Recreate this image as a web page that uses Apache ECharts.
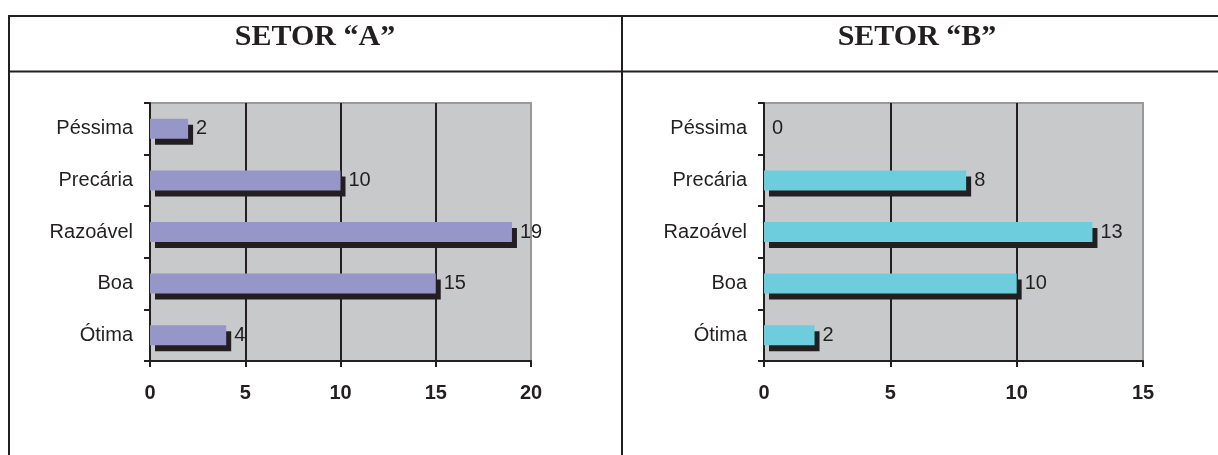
<!DOCTYPE html>
<html>
<head>
<meta charset="utf-8">
<script src="https://cdn.jsdelivr.net/npm/echarts@6/dist/echarts.min.js"></script>
<style>
  html, body { margin: 0; padding: 0; background: #fff; }
  #main { width: 1218px; height: 455px; }
</style>
</head>
<body>
<div id="main"></div>
<script>
// dados
const categorias = ['Péssima', 'Precária', 'Razoável', 'Boa', 'Ótima']
const setorA = [2, 10, 19, 15, 4]
const setorB = [0, 8, 13, 10, 2]
const titulos = ['SETOR “A”', 'SETOR “B”']
const maxA = 20
const maxB = 15
const passo = 5

const fonte = '"Liberation Sans", Arial, sans-serif'
const preto = '#231f20'

// monta um eixo x para cada setor
function eixoX(idx, max) {
  const n = max / passo + 1
  const cores = []
  for (let i = 0; i < n; i++) cores.push(i === n - 1 ? '#999' : preto)
  return {
    type: 'value', gridIndex: idx, min: 0, max: max, interval: passo,
    axisLine: { show: true, lineStyle: { color: preto, width: 2 } },
    axisTick: { show: true, length: 6, lineStyle: { color: preto, width: 2 } },
    axisLabel: { color: preto, fontSize: 20, fontWeight: 'bold', fontFamily: fonte, margin: 22 },
    splitLine: { show: true, lineStyle: { color: cores, width: 2 } }
  }
}

function eixoY(idx) {
  return {
    type: 'category', gridIndex: idx, data: categorias, inverse: true,
    axisLine: { show: true, lineStyle: { color: preto, width: 2 } },
    axisTick: { show: true, length: 6, lineStyle: { color: preto, width: 2 } },
    axisLabel: { color: preto, fontSize: 20, fontFamily: fonte, margin: 17 }
  }
}

function serie(idx, dados, cor) {
  return {
    type: 'bar', xAxisIndex: idx, yAxisIndex: idx, data: dados, barWidth: 20,
    itemStyle: { color: cor, shadowColor: preto, shadowBlur: 0, shadowOffsetX: 5, shadowOffsetY: 6 },
    label: { show: true, position: 'right', distance: 8, color: preto, fontSize: 20, fontFamily: fonte },
    animation: false
  }
}

function linha(x1, y1, x2, y2) {
  return { type: 'line', shape: { x1, y1, x2, y2 }, style: { stroke: preto, lineWidth: 2 }, z: 100 }
}

function titulo(txt, x) {
  return {
    type: 'text', x: x, y: 37, z: 100,
    style: { text: txt, fill: preto, font: 'bold 30px "Liberation Serif", "Times New Roman", serif', textAlign: 'center', textVerticalAlign: 'middle', verticalAlign: 'middle' }
  }
}

const myChart = echarts.init(document.getElementById('main'), null, { renderer: 'canvas' })

const option = {
  backgroundColor: '#fff',
  animation: false,
  grid: [
    { left: 150, top: 103, width: 381, height: 258, show: true, backgroundColor: '#c8c9cb', borderColor: '#999', borderWidth: 2 },
    { left: 764, top: 103, width: 379, height: 258, show: true, backgroundColor: '#c8c9cb', borderColor: '#999', borderWidth: 2 }
  ],
  xAxis: [eixoX(0, maxA), eixoX(1, maxB)],
  yAxis: [eixoY(0), eixoY(1)],
  series: [serie(0, setorA, '#9696c8'), serie(1, setorB, '#6ecddc')],
  graphic: [
    linha(8, 16, 1218, 16),
    linha(8, 71.5, 1218, 71.5),
    linha(9, 15, 9, 455),
    linha(622, 15, 622, 455),
    titulo(titulos[0], 315),
    titulo(titulos[1], 917)
  ]
}

myChart.setOption(option)
</script>
</body>
</html>
